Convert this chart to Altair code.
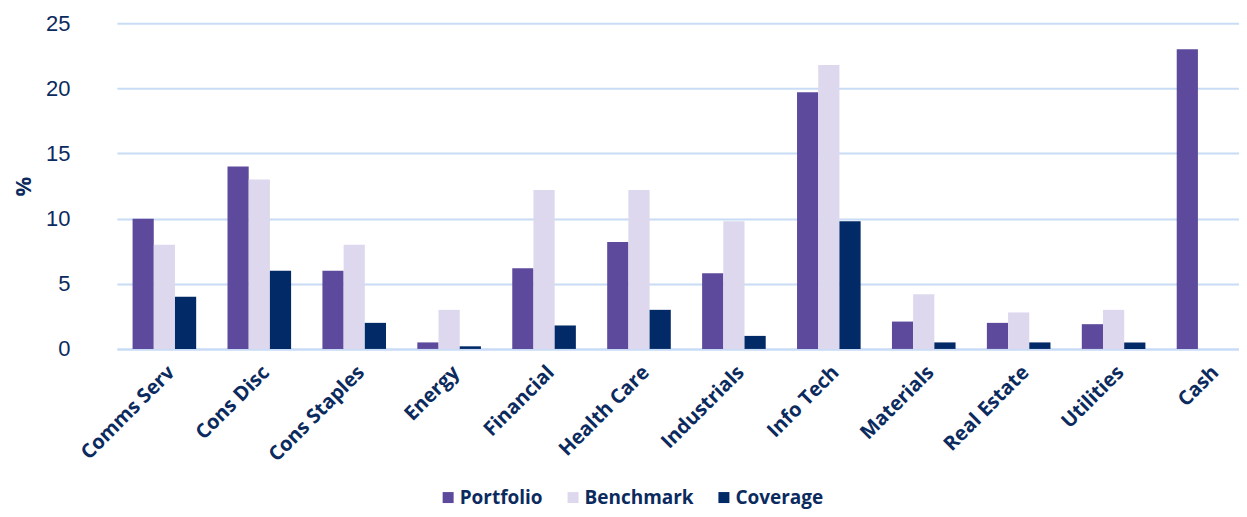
import altair as alt
import pandas as pd

categories = ["Comms Serv", "Cons Disc", "Cons Staples", "Energy", "Financial",
              "Health Care", "Industrials", "Info Tech", "Materials",
              "Real Estate", "Utilities", "Cash"]
portfolio = [10.0, 14.0, 6.0, 0.5, 6.2, 8.2, 5.8, 19.7, 2.1, 2.0, 1.9, 23.0]
benchmark = [8.0, 13.0, 8.0, 3.0, 12.2, 12.2, 9.8, 21.8, 4.2, 2.8, 3.0, 0.0]
coverage = [4.0, 6.0, 2.0, 0.2, 1.8, 3.0, 1.0, 9.8, 0.5, 0.5, 0.5, 0.0]
series = ["Portfolio", "Benchmark", "Coverage"]
colors = ["#5E4A9C", "#DDD8EE", "#022A66"]
y_ticks = [0, 5, 10, 15, 20, 25]

rows = []
for name, vals in zip(series, [portfolio, benchmark, coverage]):
    for c, v in zip(categories, vals):
        rows.append({"Sector": c, "Series": name, "Value": v})
df = pd.DataFrame(rows)

navy = "#0B2A5E"
grid = "#C8DCF6"

chart = alt.Chart(df).mark_bar().encode(
    x=alt.X("Sector:N", sort=categories, title=None,
            scale=alt.Scale(domain=categories, range=[0, 1140],
                            paddingInner=0.33, paddingOuter=0.165),
            axis=alt.Axis(labelAngle=-45, labelAlign="right", labelBaseline="top",
                          labelFont="Open Sans", labelFontWeight="bold",
                          labelFontSize=20, labelColor=navy, labelPadding=13,
                          ticks=False, tickSize=0, domainColor=grid, domainWidth=2,
                          grid=False)),
    xOffset=alt.XOffset("Series:N", sort=series,
                        scale=alt.Scale(domain=series, paddingInner=0, paddingOuter=0)),
    y=alt.Y("Value:Q", title="%",
            scale=alt.Scale(domain=[0, 25], nice=False),
            axis=alt.Axis(values=y_ticks, labelFont="Liberation Sans",
                          labelFontSize=22, labelColor=navy, labelPadding=47,
                          ticks=False, tickSize=0, domain=False,
                          gridColor=grid, gridWidth=2,
                          titleFont="Open Sans", titleFontWeight="bold",
                          titleFontSize=22, titleColor=navy, titleAngle=-90,
                          titleAlign="center", titleBaseline="middle",
                          titleX=-93, titleY=163)),
    color=alt.Color("Series:N", sort=series,
                    scale=alt.Scale(domain=series, range=colors),
                    legend=alt.Legend(title=None, orient="none", direction="horizontal",
                                      legendX=322, legendY=465,
                                      symbolType="square", symbolSize=121,
                                      symbolStrokeWidth=0, labelOffset=2,
                                      columnPadding=20, padding=0,
                                      labelFont="Open Sans", labelFontWeight="bold",
                                      labelFontSize=19, labelColor=navy)),
).properties(
    width=1123, height=326,
    autosize=alt.AutoSizeParams(type="none"),
    padding={"left": 109, "top": 15, "right": 0, "bottom": 160},
    background="white",
).configure_view(stroke=None)

chart.save("out.html", embed_options={"renderer": "svg", "actions": False})
